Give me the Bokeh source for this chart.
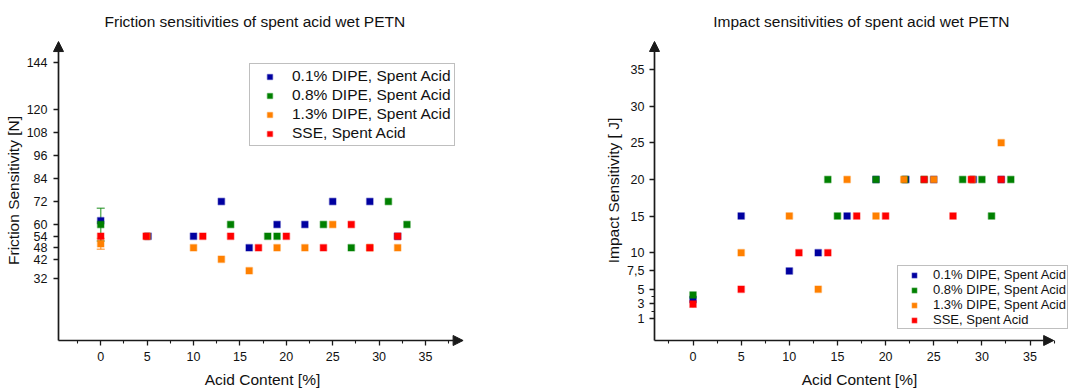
from bokeh.plotting import figure
from bokeh.models import (Range1d, FixedTicker, Arrow, NormalHead, Whisker, TeeHead,
                          ColumnDataSource)
from bokeh.layouts import row
from bokeh.embed import file_html
from bokeh.resources import INLINE

FONT = "Liberation Sans"

series_names = ["0.1% DIPE, Spent Acid", "0.8% DIPE, Spent Acid",
                "1.3% DIPE, Spent Acid", "SSE, Spent Acid"]
series_colors = ["#0000A0", "#008000", "#FF8000", "#FF0000"]

# ---- Friction sensitivity [N] vs acid content [%]
fr_x_01 = [0, 5.1, 10, 13, 16, 19, 22, 25, 29, 32]
fr_y_01 = [62, 54, 54, 72, 48, 60, 60, 72, 72, 54]
fr_x_08 = [0, 14, 18, 19, 24, 27, 31, 33]
fr_y_08 = [60, 60, 54, 54, 60, 48, 72, 60]
fr_x_13 = [0, 5, 10, 13, 16, 19, 22, 25, 29, 32]
fr_y_13 = [50, 54, 48, 42, 36, 48, 48, 60, 48, 48]
fr_x_sse = [0, 4.9, 11, 14, 17, 20, 24, 27, 29, 32]
fr_y_sse = [54, 54, 54, 54, 48, 54, 48, 60, 48, 54]
# error bars at 0 % (0.8 % and 1.3 % series)
fr_err_x = [0, 0]
fr_err_lower = [51.5, 47.2]
fr_err_upper = [68.5, 52.8]
fr_yticks = [32, 42, 48, 54, 60, 72, 84, 96, 108, 120, 144]

# ---- Impact sensitivity [J] vs acid content [%]
im_x_01 = [0, 5, 10, 13, 16, 19, 22.1, 25, 29.1, 32]
im_y_01 = [3.6, 15, 7.5, 10, 15, 20, 20, 20, 20, 20]
im_x_08 = [0, 14, 15, 19, 22, 24, 28, 30, 31, 33]
im_y_08 = [4.2, 20, 15, 20, 20, 20, 20, 20, 15, 20]
im_x_13 = [5, 10, 13, 16, 19, 21.9, 25, 29, 32]
im_y_13 = [10, 15, 5, 20, 15, 20, 20, 20, 25]
im_x_sse = [0, 5, 11, 14, 17, 20, 24, 27, 28.9, 32]
im_y_sse = [3, 5, 10, 10, 15, 15, 20, 15, 20, 20]
im_err_x = [0]
im_err_lower = [2.5]
im_err_upper = [3.5]
im_yticks = [1, 3, 5, 7.5, 10, 15, 20, 25, 30, 35]
im_yminor = [2, 4]

x_major = [0, 5, 10, 15, 20, 25, 30, 35]
x_minor = [-2.5, 2.5, 7.5, 12.5, 17.5, 22.5, 27.5, 32.5, 37.5]

FIG_W = 535
FIG_H = 388
GAP = 6                 # frame extends this many px beyond the drawn axis lines
AXIS_Y_PX = 340         # pixel row of the x axis line
FRAME_TOP = 34
FRAME_BOTTOM = AXIS_Y_PX + GAP
INK = "#1a1a1a"


def style_axis(ax):
    ax.axis_line_color = None          # the axis line is drawn as an arrow
    ax.major_tick_line_color = INK
    ax.major_tick_line_width = 1.3
    ax.minor_tick_line_color = INK
    ax.minor_tick_line_width = 1.1
    ax.major_tick_in = GAP
    ax.major_tick_out = -1
    ax.minor_tick_in = GAP
    ax.minor_tick_out = -3
    ax.major_label_text_font = FONT
    ax.major_label_text_font_size = "12.5px"
    ax.major_label_text_color = "#111111"
    ax.axis_label_text_font = FONT
    ax.axis_label_text_font_size = "15.5px"
    ax.axis_label_text_font_style = "normal"
    ax.axis_label_text_color = "#111111"


def make_fig(title, fig_left, axis_x_px, frame_right,
             xaxis_span, x_scale, yaxis_span, y_scale, title_x):
    frame_left = axis_x_px - GAP
    # frame ranges derived from where the axis lines sit in pixels
    x0 = xaxis_span[0] - GAP / x_scale
    x1 = xaxis_span[0] + (frame_right - axis_x_px) / x_scale
    y0 = yaxis_span[0] - GAP / y_scale
    y1 = yaxis_span[0] + (AXIS_Y_PX - FRAME_TOP) / y_scale
    p = figure(output_backend="svg", toolbar_location=None,
               frame_width=int(frame_right - frame_left),
               frame_height=FRAME_BOTTOM - FRAME_TOP,
               min_border_left=int(frame_left - fig_left),
               min_border_right=int(fig_left + FIG_W - frame_right),
               min_border_top=FRAME_TOP, min_border_bottom=FIG_H - FRAME_BOTTOM,
               x_range=Range1d(x0, x1), y_range=Range1d(y0, y1))
    p.title.text = title
    p.title.align = "left"
    p.title.offset = title_x - frame_left
    p.title.text_font = FONT
    p.title.text_font_size = "15.5px"
    p.title.text_font_style = "normal"
    p.title.text_color = "#111111"
    p.outline_line_color = None
    p.xgrid.visible = False
    p.ygrid.visible = False
    p.background_fill_color = "white"
    p.border_fill_color = "white"
    xa, ya = p.xaxis[0], p.yaxis[0]
    style_axis(xa)
    style_axis(ya)
    xa.ticker = FixedTicker(ticks=x_major, minor_ticks=x_minor)
    xa.axis_label = "Acid Content [%]"
    xa.major_label_standoff = 6
    xa.axis_label_standoff = 7
    ya.major_label_standoff = 5
    ya.axis_label_standoff = 2
    # axis lines with arrow heads
    head = dict(size=10, fill_color=INK, line_color=INK)
    p.add_layout(Arrow(end=NormalHead(**head),
                       x_start=xaxis_span[0], y_start=yaxis_span[0],
                       x_end=xaxis_span[1], y_end=yaxis_span[0],
                       line_color=INK, line_width=1.7))
    p.add_layout(Arrow(end=NormalHead(**head),
                       x_start=xaxis_span[0], y_start=yaxis_span[0],
                       x_end=xaxis_span[0], y_end=yaxis_span[1],
                       line_color=INK, line_width=1.7))
    return p


def add_series(p, xs_list, ys_list, size):
    for name, col, xs, ys in zip(series_names, series_colors, xs_list, ys_list):
        p.scatter(xs, ys, marker="square", size=size, fill_color=col,
                  line_color=col, line_alpha=0.35, line_width=1.5,
                  legend_label=name)


def style_legend(lg, loc, fsize, pad, gw, gh, lh, standoff, spacing):
    lg.location = loc
    lg.label_text_font = FONT
    lg.label_text_font_size = fsize
    lg.label_text_color = "#111111"
    lg.padding = pad
    lg.margin = 0
    lg.spacing = spacing
    lg.glyph_width = gw
    lg.glyph_height = gh
    lg.label_height = lh
    lg.label_standoff = standoff
    lg.border_line_color = "#808080"
    lg.border_line_width = 1.4
    lg.background_fill_alpha = 1


# ---------------- left: friction
p1 = make_fig("Friction sensitivities of spent acid wet PETN",
              fig_left=0, axis_x_px=58, frame_right=472,
              xaxis_span=(-4.55, 39.05), x_scale=9.28,
              yaxis_span=(-0.2, 155.1), y_scale=1.925, title_x=104)
p1.yaxis[0].ticker = FixedTicker(ticks=fr_yticks)
p1.yaxis[0].minor_tick_line_color = None
p1.yaxis[0].axis_label = "Friction Sensitivity [N]"

src1 = ColumnDataSource(dict(x=fr_err_x, lo=fr_err_lower, up=fr_err_upper,
                             c=[series_colors[1], series_colors[2]]))
w1 = Whisker(source=src1, base="x", lower="lo", upper="up", dimension="height",
             line_color="c", line_alpha=0.6, line_width=1.5,
             upper_head=TeeHead(size=8, line_color="c", line_alpha=0.6, line_width=1.5),
             lower_head=TeeHead(size=8, line_color="c", line_alpha=0.6, line_width=1.5),
             level="underlay")
p1.add_layout(w1)
add_series(p1, [fr_x_01, fr_x_08, fr_x_13, fr_x_sse],
           [fr_y_01, fr_y_08, fr_y_13, fr_y_sse], 6.5)
style_legend(p1.legend[0], (197, 200), "15.5px", 3, 33, 13, 16, 6, 1)

# ---------------- right: impact
p2 = make_fig("Impact sensitivities of spent acid wet PETN",
              fig_left=535, axis_x_px=654, frame_right=1070,
              xaxis_span=(-4.0, 37.45), x_scale=9.63,
              yaxis_span=(-2.0, 38.85), y_scale=7.32, title_x=712.7)
p2.yaxis[0].ticker = FixedTicker(ticks=im_yticks, minor_ticks=im_yminor)
p2.yaxis[0].major_label_overrides = {7.5: "7,5"}
p2.yaxis[0].axis_label = "Impact Sensitivity [ J]"

src2 = ColumnDataSource(dict(x=im_err_x, lo=im_err_lower, up=im_err_upper))
w2 = Whisker(source=src2, base="x", lower="lo", upper="up", dimension="height",
             line_color=series_colors[3], line_alpha=0.35, line_width=1.2,
             upper_head=TeeHead(size=7, line_color=series_colors[3], line_alpha=0.35),
             lower_head=TeeHead(size=7, line_color=series_colors[3], line_alpha=0.35),
             level="underlay")
p2.add_layout(w2)
add_series(p2, [im_x_01, im_x_08, im_x_13, im_x_sse],
           [im_y_01, im_y_08, im_y_13, im_y_sse], 6.5)
style_legend(p2.legend[0], (249, 17), "13px", 1, 30, 12, 15, 4, 0)

layout = row(p1, p2, spacing=0)
open("out.html", "w").write(file_html(layout, INLINE))
